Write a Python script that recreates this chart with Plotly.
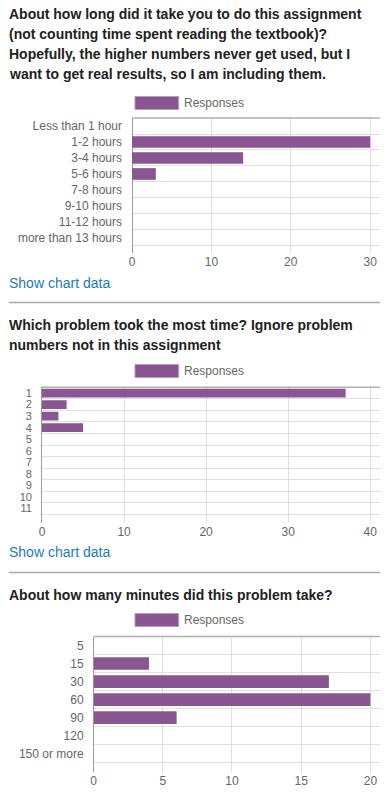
import plotly.graph_objects as go

# ---------------- data ----------------
q1_title_lines = [
    "About how long did it take you to do this assignment",
    "(not counting time spent reading the textbook)?",
    "Hopefully, the higher numbers never get used, but I",
    "want to get real results, so I am including them.",
]
q1_categories = ["Less than 1 hour", "1-2 hours", "3-4 hours", "5-6 hours",
                 "7-8 hours", "9-10 hours", "11-12 hours", "more than 13 hours"]
q1_values = [0, 30, 14, 3, 0, 0, 0, 0]
q1_ticks = [0, 10, 20, 30]

q2_title_lines = [
    "Which problem took the most time? Ignore problem",
    "numbers not in this assignment",
]
q2_categories = ["1", "2", "3", "4", "5", "6", "7", "8", "9", "10", "11"]
q2_values = [37, 3, 2, 5, 0, 0, 0, 0, 0, 0, 0]
q2_ticks = [0, 10, 20, 30, 40]

q3_title_lines = ["About how many minutes did this problem take?"]
q3_categories = ["5", "15", "30", "60", "90", "120", "150 or more"]
q3_values = [0, 4, 17, 20, 6, 0, 0]
q3_ticks = [0, 5, 10, 15, 20]

series_name = "Responses"
link_text = "Show chart data"

# ---------------- style ----------------
W, H = 391, 792
OX = 2   # small horizontal correction (page px of figure origin)
OY = 0
FONT = "Liberation Sans, Arial, sans-serif"
BAR = "#8a5691"
GRID = "#e0e0e0"
AXIS = "#9a9a9a"
TXT = "#666666"
TITLE = "#212121"
LINK = "#1a7bbd"


def px(X):
    return (X - OX) / W


def py(Y):
    return 1 - (Y - OY) / H


fig = go.Figure()

charts = [
    dict(cats=q1_categories, vals=q1_values, ticks=q1_ticks, xr=31.25, yr_bot=7.94,
         dom_x=(132, 382), dom_y=(118, 253), width=0.73, ysize=12,
         title=q1_title_lines, title_y0=14, legend_y=103, link_y=283, divider=302.5),
    dict(cats=q2_categories, vals=q2_values, ticks=q2_ticks, xr=41.2, yr_bot=11.28,
         dom_x=(41.3, 382), dom_y=(387.3, 523.3), width=0.76, ysize=11,
         title=q2_title_lines, title_y0=325, legend_y=371, link_y=552, divider=572.5),
    dict(cats=q3_categories, vals=q3_values, ticks=q3_ticks, xr=20.7, yr_bot=7.0,
         dom_x=(93.3, 382), dom_y=(636.5, 771.7), width=0.70, ysize=12,
         title=q3_title_lines, title_y0=595, legend_y=620, link_y=None, divider=None),
]

shapes = []
annotations = []
layout_axes = {}

for i, c in enumerate(charts, start=1):
    xa = "x" if i == 1 else f"x{i}"
    ya = "y" if i == 1 else f"y{i}"
    fig.add_trace(go.Bar(
        x=c["vals"], y=c["cats"], orientation="h", name=series_name,
        marker=dict(color=BAR, line=dict(width=0)),
        width=c["width"], xaxis=xa, yaxis=ya, showlegend=False,
    ))
    xkey = "xaxis" if i == 1 else f"xaxis{i}"
    ykey = "yaxis" if i == 1 else f"yaxis{i}"
    layout_axes[xkey] = dict(
        domain=[px(c["dom_x"][0]), px(c["dom_x"][1])],
        anchor=ya, range=[0, c["xr"]], tickmode="array", tickvals=c["ticks"],
        showgrid=True, gridcolor=GRID, gridwidth=1,
        zeroline=True, zerolinecolor=AXIS, zerolinewidth=1,
        showline=False, ticks="", fixedrange=True,
        tickfont=dict(family=FONT, size=12, color=TXT),
    )
    layout_axes[ykey] = dict(
        domain=[py(c["dom_y"][1]), py(c["dom_y"][0])],
        anchor=xa, type="category", categoryorder="array", categoryarray=c["cats"],
        tickmode="array", tickvals=c["cats"], ticktext=c["cats"],
        range=[c["yr_bot"], -0.5], tickson="boundaries",
        showgrid=True, gridcolor=GRID, gridwidth=1,
        zeroline=False, showline=False, ticks="", ticklabelstandoff=9,
        tickfont=dict(family=FONT, size=c["ysize"], color=TXT), fixedrange=True,
    )
    # darker top border of plot area
    shapes.append(dict(type="line", xref=f"{xa} domain", yref=f"{ya} domain",
                       x0=0, x1=1, y0=1, y1=1, line=dict(color="#b0b0b0", width=1.5)))
    # title lines
    for k, line in enumerate(c["title"]):
        annotations.append(dict(text=f"<b>{line}</b>", xref="paper", yref="paper",
                                x=px(6), y=py(c["title_y0"] + 20 * k),
                                xanchor="left", yanchor="middle", showarrow=False,
                                font=dict(family=FONT, size=14, color=TITLE)))
    # legend key
    ly = c["legend_y"]
    shapes.append(dict(type="rect", xref="paper", yref="paper",
                       x0=px(135), x1=px(179), y0=py(ly + 6.5), y1=py(ly - 6.5),
                       fillcolor=BAR, line=dict(color="#b79fc0", width=1)))
    annotations.append(dict(text=series_name, xref="paper", yref="paper",
                            x=px(182), y=py(ly), xanchor="left", yanchor="middle",
                            showarrow=False, font=dict(family=FONT, size=12, color=TXT)))
    if c["link_y"] is not None:
        annotations.append(dict(text=link_text, xref="paper", yref="paper",
                                x=px(6), y=py(c["link_y"]), xanchor="left",
                                yanchor="middle", showarrow=False,
                                font=dict(family=FONT, size=14, color=LINK)))
    if c["divider"] is not None:
        shapes.append(dict(type="line", xref="paper", yref="paper",
                           x0=px(8), x1=px(382), y0=py(c["divider"]), y1=py(c["divider"]),
                           line=dict(color="#a8a8a8", width=1.5)))

fig.update_layout(
    width=W, height=H, margin=dict(l=0, r=0, t=0, b=0, pad=0),
    paper_bgcolor="white", plot_bgcolor="white",
    showlegend=False, shapes=shapes, annotations=annotations,
    font=dict(family=FONT), **layout_axes,
)

fig.write_html("out.html", config={"displayModeBar": False},
               post_script="document.body.style.margin='0';")
